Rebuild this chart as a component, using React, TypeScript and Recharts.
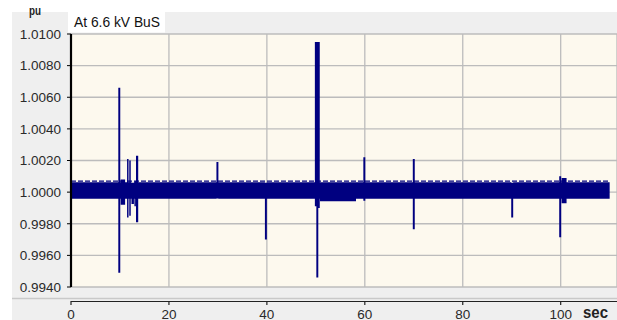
import { ComposedChart, Area, Line, XAxis, YAxis, CartesianGrid } from 'recharts';

// envelope of the 6.6 kV bus voltage (pu)
const bandStart = [0, 50.85, 58.2];
const bandLow = [0.99958, 0.99942, 0.99958];
const bandHigh = [1.00063, 1.00063, 1.00063];
const endTime = 110;

// transient spikes: centre time (s), min, max, duration (s)
const spikeTime = [9.86, 10.6, 11.6, 12.05, 12.6, 13.1, 13.5, 29.9, 39.8, 49.95, 50.3, 50.65, 59.9, 70.0, 90.1, 99.9, 100.7];
const spikeLow = [0.9949, 0.9992, 0.9984, 0.9985, 0.99925, 0.9991, 0.9981, 0.9996, 0.997, 0.9991, 0.9946, 0.999, 0.99945, 0.99765, 0.9984, 0.99715, 0.9993];
const spikeHigh = [1.0066, 1.0008, 1.0021, 1.002, 1.0006, 1.0007, 1.0023, 1.0019, 1.0006, 1.0095, 1.0095, 1.0095, 1.0022, 1.0021, 1.0006, 1.001, 1.0009];
const spikeWidth = [0.4, 0.9, 0.3, 0.3, 0.5, 0.3, 0.45, 0.4, 0.4, 0.3, 0.4, 0.3, 0.4, 0.4, 0.4, 0.4, 1.0];

// small ripple peaks along the top of the band
const rippleTop = 1.00069;

const yTicks = [0.994, 0.996, 0.998, 1.0, 1.002, 1.004, 1.006, 1.008, 1.01];
const xTicks = [0, 20, 40, 60, 80, 100];

const r3 = (v: number) => Math.round(v * 1000) / 1000;

const bandAt = (t: number) => {
  let i = 0;
  bandStart.forEach((s, k) => {
    if (s <= t) i = k;
  });
  return { lo: bandLow[i], hi: bandHigh[i] };
};

type Pt = { t: number; lo: number; hi: number; rank: number };

const points: Pt[] = [];
bandStart.forEach((s, i) => points.push({ t: s, lo: bandLow[i], hi: bandHigh[i], rank: 0 }));
spikeTime.forEach((c, i) => {
  const start = r3(c - spikeWidth[i] / 2);
  const stop = r3(c + spikeWidth[i] / 2);
  points.push({ t: start, lo: spikeLow[i], hi: spikeHigh[i], rank: 1 });
  points.push({ t: stop, ...bandAt(stop), rank: 0 });
});
points.push({ t: endTime, ...bandAt(endTime), rank: 0 });
points.sort((a, b) => a.t - b.t || a.rank - b.rank);

const signal = points.map((p) => ({ t: p.t, v: [p.lo, p.hi] }));
const ripple = [
  { t: 0, v: rippleTop },
  { t: endTime, v: rippleTop },
];

const font = "'Liberation Sans', Arial, sans-serif";

const XTick = (props: any) => {
  const { x, y, payload } = props;
  return (
    <g>
      <line x1={x} x2={x} y1={y + 14} y2={y + 18} stroke="#222" strokeWidth={1.2} />
      <text x={x} y={y + 31.5} textAnchor="middle" fontSize={13.5} fontFamily={font} fill="#2a2a2a">
        {payload.value}
      </text>
    </g>
  );
};

export default function App() {
  return (
    <div style={{ position: 'absolute', left: 0, top: 0, width: 617, height: 320, background: '#fff', overflow: 'hidden' }}>
      <svg width={617} height={320} style={{ position: 'absolute', left: 0, top: 0 }}>
        <rect x={12} y={12} width={605} height={308} fill="#efefef" />
        <line x1={12} x2={617} y1={298.5} y2={298.5} stroke="#c9c9c9" strokeWidth={1.5} />
        <line x1={71} x2={617} y1={301.5} y2={301.5} stroke="#222" strokeWidth={1} />
      </svg>
      <ComposedChart
        width={617}
        height={320}
        margin={{ top: 34, right: 0, bottom: 0, left: 0 }}
        style={{ position: 'absolute', left: 0, top: 0 }}
      >
        <CartesianGrid fill="#fdf9ee" stroke="#bcbcbc" strokeWidth={1.3} />
        <XAxis
          dataKey="t"
          type="number"
          domain={[0, 111.5]}
          ticks={xTicks}
          height={33}
          axisLine={false}
          tickLine={false}
          tickSize={0}
          tickMargin={0}
          tick={<XTick />}
          interval={0}
        />
        <YAxis
          type="number"
          domain={[0.994, 1.01]}
          ticks={yTicks}
          width={71}
          allowDataOverflow
          interval={0}
          tickFormatter={(v: number) => v.toFixed(4)}
          axisLine={{ stroke: '#000', strokeWidth: 2.2 }}
          tickLine={{ stroke: '#000' }}
          tickSize={4}
          tickMargin={6}
          tick={{ fontSize: 13.5, fontFamily: font, fill: '#2a2a2a' }}
        />
        <Area
          data={signal}
          dataKey="v"
          type="stepAfter"
          fill="#000080"
          fillOpacity={1}
          stroke="none"
          isAnimationActive={false}
          dot={false}
          activeDot={false}
        />
        <Line
          data={ripple}
          dataKey="v"
          type="linear"
          stroke="#000080"
          strokeWidth={1.2}
          strokeDasharray="5 2"
          dot={false}
          activeDot={false}
          isAnimationActive={false}
        />
      </ComposedChart>
      <svg width={617} height={320} style={{ position: 'absolute', left: 0, top: 0, pointerEvents: 'none' }}>
        <text x={29} y={15} fontSize={12} fontFamily={font} fontWeight="bold" fill="#222" textLength={12} lengthAdjust="spacingAndGlyphs">
          pu
        </text>
        <rect x={68} y={12} width={97} height={20.5} fill="#fff" />
        <text x={74} y={26.5} fontSize={15} fontFamily={font} fill="#111" textLength={86} lengthAdjust="spacingAndGlyphs">
          At 6.6 kV BuS
        </text>
        <text x={583} y={317.5} fontSize={17} fontFamily={font} fontWeight="bold" fill="#222" textLength={25} lengthAdjust="spacingAndGlyphs">
          sec
        </text>
      </svg>
    </div>
  );
}
